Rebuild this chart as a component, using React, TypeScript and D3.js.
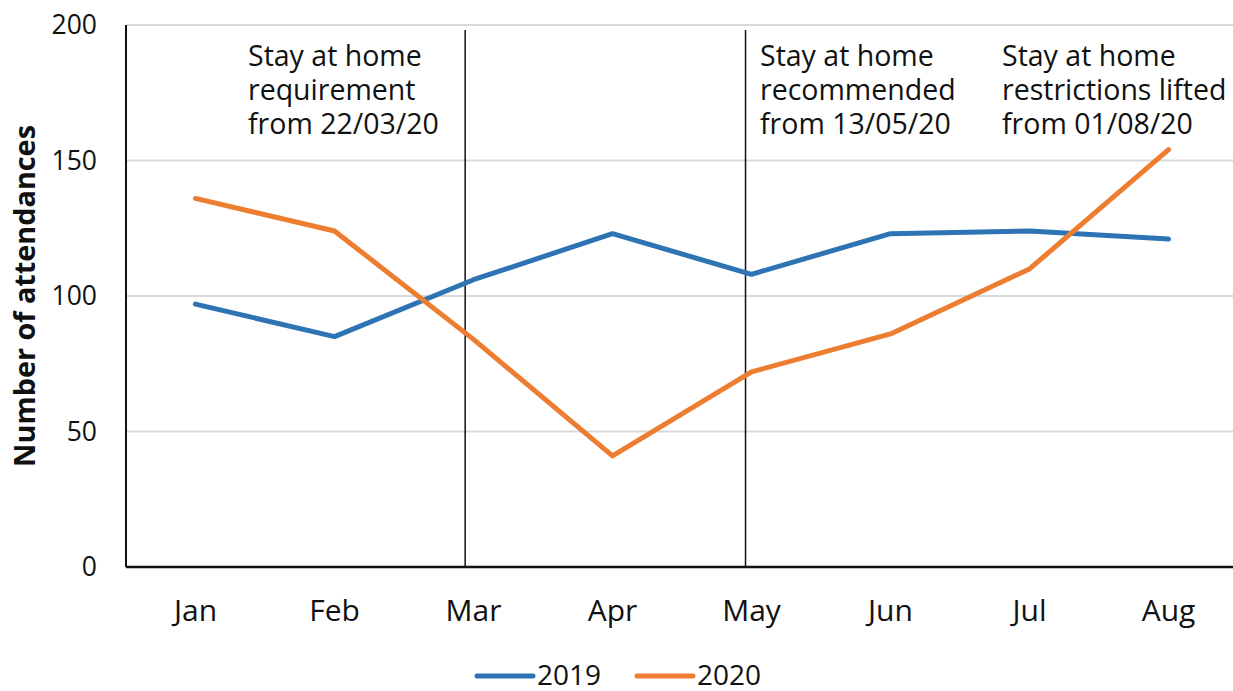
import React from "react";
import * as d3 from "d3";

const months = ["Jan", "Feb", "Mar", "Apr", "May", "Jun", "Jul", "Aug"];
const values2019 = [97, 85, 106, 123, 108, 123, 124, 121];
const values2020 = [136, 124, 84, 41, 72, 86, 110, 154];
const yTicks = [0, 50, 100, 150, 200];
const annotationIndex = [1.94, 3.957];
const annotationTexts = [
  ["Stay at home", "requirement", "from 22/03/20"],
  ["Stay at home", "recommended", "from 13/05/20"],
  ["Stay at home", "restrictions lifted", "from 01/08/20"],
];
const annotationX = [248, 760, 1002];
const seriesNames = ["2019", "2020"];
const colors = ["#2E74B5", "#ED7D31"];

export default function App() {
  const W = 1233, H = 691;
  const left = 126, right = 1238, top = 25, bottom = 567;
  const x = d3.scalePoint<string>().domain(months).range([left, right]).padding(0.5);
  const step = x.step();
  const y = d3.scaleLinear().domain([0, 200]).range([bottom, top]);
  const line = d3
    .line<number>()
    .x((_, i) => x(months[i]) as number)
    .y((d) => y(d));
  const font = "'Open Sans', sans-serif";
  const series = [values2019, values2020];

  return (
    <svg
      width={W}
      height={H}
      style={{ position: "absolute", left: 0, top: 0, background: "#fff" }}
      fontFamily={font}
    >
      {yTicks.map((t) =>
        t > 0 ? (
          <line key={"g" + t} x1={left} x2={W} y1={y(t)} y2={y(t)} stroke="#d9d9d9" strokeWidth={2} />
        ) : null
      )}
      {yTicks.map((t) => (
        <text key={"t" + t} x={97} y={y(t)} dy="0.35em" textAnchor="end" fontSize={26.5} fill="#111">
          {t}
        </text>
      ))}
      {annotationIndex.map((a, i) => {
        const xx = (x(months[0]) as number) + a * step;
        return <line key={"a" + i} x1={xx} x2={xx} y1={30} y2={bottom} stroke="#111" strokeWidth={1.5} />;
      })}
      <line x1={left} x2={left} y1={top} y2={bottom} stroke="#111" strokeWidth={2} />
      <line x1={left} x2={W} y1={bottom} y2={bottom} stroke="#111" strokeWidth={2.5} />
      {months.map((m) => (
        <text key={m} x={x(m)} y={621} textAnchor="middle" fontSize={30} fill="#111">
          {m}
        </text>
      ))}
      {annotationTexts.map((lines, i) => (
        <text key={"at" + i} x={annotationX[i]} y={66} fontSize={28.5} fill="#111">
          {lines.map((l, j) => (
            <tspan key={j} x={annotationX[i]} y={66 + j * 34}>
              {l}
            </tspan>
          ))}
        </text>
      ))}
      {series.map((s, i) => (
        <path
          key={"s" + i}
          d={line(s) as string}
          fill="none"
          stroke={colors[i]}
          strokeWidth={5}
          strokeLinejoin="round"
          strokeLinecap="round"
        />
      ))}
      <text
        transform={`translate(35, 296) rotate(-90)`}
        textAnchor="middle"
        fontSize={28.8}
        fontWeight="bold"
        fill="#111"
      >
        Number of attendances
      </text>
      {seriesNames.map((n, i) => {
        const lx = 477 + i * 160;
        return (
          <g key={n}>
            <line x1={lx} x2={lx + 56} y1={676} y2={676} stroke={colors[i]} strokeWidth={5} strokeLinecap="round" />
            <text x={lx + 60} y={675} dy="0.35em" fontSize={28} fill="#111">
              {n}
            </text>
          </g>
        );
      })}
    </svg>
  );
}
